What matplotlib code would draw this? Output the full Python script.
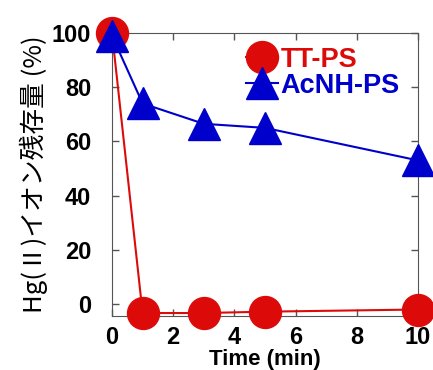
import matplotlib
matplotlib.use("Agg")
import matplotlib.pyplot as plt

time_min = [0, 1, 3, 5, 10]
tt_ps = [100, -3.3, -3.3, -2.8, -2.0]
acnh_ps = [99, 74, 66.5, 65, 53]

plt.rcParams['font.family'] = ['Liberation Sans', 'Noto Sans CJK JP']

fig = plt.figure(figsize=(4.33, 3.70), dpi=100)
ax = fig.add_axes([0.2587, 0.1459, 0.7067, 0.7649])

ax.plot(time_min, tt_ps, color='#dd0a0a', lw=1.5, marker='o', ms=23,
        clip_on=False, zorder=3, label='TT-PS')
ax.plot(time_min, acnh_ps, color='#0000cc', lw=1.5, marker='^', ms=23,
        clip_on=False, zorder=3, label='AcNH-PS')

ax.set_xlim(0, 10)
ax.set_ylim(-4.4, 100)
ax.set_xticks(range(0, 11, 2))
ax.set_yticks(range(0, 101, 20))
ax.tick_params(direction='in', top=True, right=True, length=5, width=1,
               color='#555555', labelsize=17)
ax.tick_params(axis='y', pad=15)
ax.tick_params(axis='x', pad=7)
for lab in ax.get_xticklabels() + ax.get_yticklabels():
    lab.set_fontweight('bold')
for sp in ax.spines.values():
    sp.set_color('#555555')

ax.set_xlabel('Time (min)', fontsize=16, fontweight='bold', labelpad=0)
ax.set_ylabel('Hg(Ⅱ)イオン残存量 (%)', fontsize=18.5,
              family=['Noto Sans CJK JP', 'DejaVu Sans'], labelpad=3)

leg = ax.legend(loc='upper right', bbox_to_anchor=(0.985, 1.0), frameon=False,
                prop={'weight': 'bold', 'size': 19.5},
                handlelength=1.2, handletextpad=0.1, labelspacing=0.0,
                markerscale=1.0, borderaxespad=0.1)
for t, c in zip(leg.get_texts(), ['#dd0a0a', '#0000cc']):
    t.set_color(c)

fig.savefig('out.png', dpi=100)
